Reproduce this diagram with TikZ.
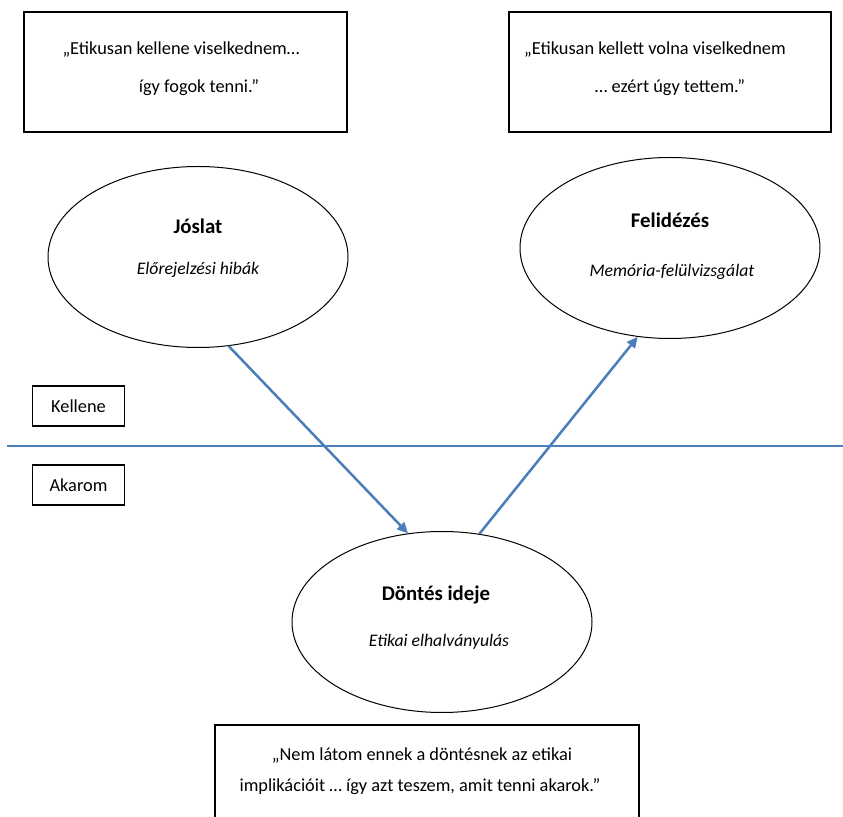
\documentclass[tikz,border=0pt]{standalone}
\usepackage{fontspec}
\setmainfont{Carlito}
\usetikzlibrary{shapes.geometric,arrows.meta}
\definecolor{lineblue}{RGB}{74,126,187}
\begin{document}
\begin{tikzpicture}[x=0.6pt,y=-0.6pt,
  txt/.style={inner sep=0pt,font=\fontsize{11pt}{13pt}\selectfont},
  title/.style={inner sep=0pt,font=\fontsize{12.5pt}{14pt}\selectfont\bfseries},
  sub/.style={inner sep=0pt,font=\fontsize{10.6pt}{13pt}\selectfont\itshape},
  quotebox/.style={draw=black,line width=0.8pt,rectangle,inner sep=0pt},
  labelbox/.style={draw=black,line width=0.7pt,rectangle,inner sep=0pt},
  oval/.style={draw=black,line width=0.6pt,ellipse,inner sep=0pt,minimum width=180pt,minimum height=108.6pt},
  flow/.style={draw=lineblue,line width=1.5pt,-{Triangle[length=6.5pt,width=6pt]}},
  divider/.style={draw=lineblue,line width=1.5pt}]
\useasboundingbox (0,0) rectangle (843,817);
\clip (0,0) rectangle (843,817);
\fill[white] (0,0) rectangle (843,817);

% top boxes
\node[quotebox,minimum width=193.8pt,minimum height=72pt] (qa) at (185.5,72) {};
\node[txt] (qa1) at (181,50) {„Etikusan kellene viselkednem…};
\node[txt] (qa2) at (199,88) {így fogok tenni.”};

\node[quotebox,minimum width=193.2pt,minimum height=72pt] (qb) at (670,72) {};
\node[txt] (qb1) at (655,50) {„Etikusan kellett volna viselkednem};
\node[txt] (qb2) at (670,88) {… ezért úgy tettem.”};

% ellipses
\node[oval] (jos) at (198,257) {};
\node[title] (josT) at (198,226) {Jóslat};
\node[sub] (josS) at (198,270) {Előrejelzési hibák};

\node[oval] (fel) at (670,248) {};
\node[title] (felT) at (670,220) {Felidézés};
\node[sub] (felS) at (672,272) {Memória-felülvizsgálat};

\node[oval] (don) at (442,622) {};
\node[title] (donT) at (436,595) {Döntés ideje};
\node[sub] (donS) at (439,642) {Etikai elhalványulás};

% side labels
\node[labelbox,minimum width=55pt,minimum height=24pt] (kel) at (78.5,406) {};
\node[txt] (kelT) at (78.5,406) {Kellene};
\node[labelbox,minimum width=55pt,minimum height=24pt] (aka) at (78.5,485) {};
\node[txt] (akaT) at (78.5,485) {Akarom};

% divider
\coordinate (dL) at (7,446);
\coordinate (dR) at (843,446);
\draw[divider] (dL) -- (dR);

% arrows
\draw[flow] (jos.-71.8) -- (don.111.7);
\draw[flow] (don.67.4) -- (fel.250.4);

% bottom box
\node[quotebox,minimum width=254.4pt,minimum height=66pt] (qc) at (427,780) {};
\node[txt] (qc1) at (422,756) {„Nem látom ennek a döntésnek az etikai};
\node[txt] (qc2) at (420,787) {implikációit … így azt teszem, amit tenni akarok.”};
\end{tikzpicture}
\end{document}
